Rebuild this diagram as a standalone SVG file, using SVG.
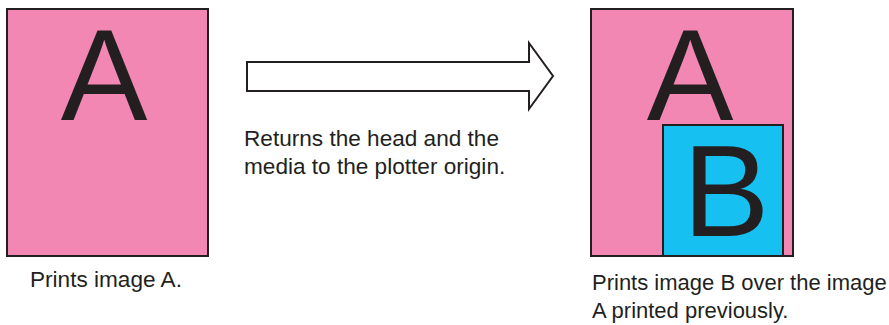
<svg xmlns="http://www.w3.org/2000/svg" width="889" height="325" viewBox="0 0 889 325">
<style>
.page{fill:#f287b3;stroke:#231f20;stroke-width:2}
.blue{fill:#16c0f0;stroke:#231f20;stroke-width:2}
.big{font-family:"Liberation Sans",Arial,sans-serif;font-size:130px;fill:#231f20;text-anchor:middle}
.lbl{font-family:"Liberation Sans",Arial,sans-serif;font-size:22.6px;fill:#231f20}
.lblr{font-family:"Liberation Sans",Arial,sans-serif;font-size:22px;fill:#231f20}
.arrow{fill:#fff;stroke:#231f20;stroke-width:2}
</style>
<rect width="889" height="325" fill="#fff"/>
<g id="imageA">
<rect class="page" x="7" y="9" width="201" height="247"/>
<text class="big" x="104" y="120">A</text>
<text class="lbl" x="30" y="287">Prints image A.</text>
</g>
<g id="connectors">
<polygon class="arrow" points="247,62 529,62 529,43 553,76 529,109 529,91 247,91"/>
<text class="lbl" x="244" y="146">Returns the head and the</text>
<text class="lbl" x="244" y="174">media to the plotter origin.</text>
</g>
<g id="imageAB">
<rect class="page" x="591" y="9" width="202" height="247"/>
<text class="big" x="690" y="120">A</text>
<rect class="blue" x="663" y="125" width="120" height="131"/>
<text class="big" x="726" y="236">B</text>
<text class="lblr" x="592" y="290">Prints image B over the image</text>
<text class="lblr" x="592" y="318">A printed previously.</text>
</g>
</svg>
